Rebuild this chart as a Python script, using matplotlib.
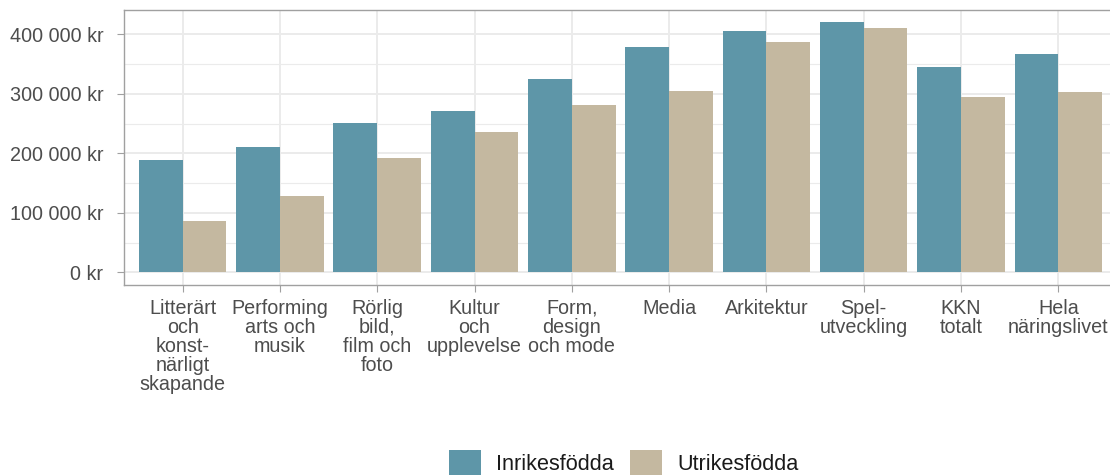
import numpy as np
import matplotlib
matplotlib.use("Agg")
import matplotlib.pyplot as plt
from matplotlib.patches import Patch
from matplotlib.ticker import FuncFormatter, MultipleLocator

plt.rcParams['font.family'] = ['Liberation Sans', 'DejaVu Sans']

# Data (kr)
categories = [
    "Litterärt\noch\nkonst-\nnärligt\nskapande",
    "Performing\narts och\nmusik",
    "Rörlig\nbild,\nfilm och\nfoto",
    "Kultur\noch\nupplevelse",
    "Form,\ndesign\noch mode",
    "Media",
    "Arkitektur",
    "Spel-\nutveckling",
    "KKN\ntotalt",
    "Hela\nnäringslivet",
]
inrikes = [189000, 211000, 251000, 271000, 325000, 379000, 405500, 420500, 345000, 367000]
utrikes = [87000, 129000, 192500, 236000, 281000, 305000, 387000, 410500, 295000, 303000]
series_names = ["Inrikesfödda", "Utrikesfödda"]
colors = ["#5E96A8", "#C4B8A0"]

fig = plt.figure(figsize=(11.1, 4.75), dpi=100)
# panel runs a little past the right edge, like the cropped reference
ax = fig.add_axes([0.112, 0.40, 0.894, 0.5796])

x = np.arange(1, len(categories) + 1)
w = 0.45
ax.bar(x - w / 2, inrikes, width=w, color=colors[0], zorder=3)
ax.bar(x + w / 2, utrikes, width=w, color=colors[1], zorder=3)

ymax = max(max(inrikes), max(utrikes))
ax.set_ylim(-0.05 * ymax, 1.05 * ymax)
ax.set_xlim(0.4, len(categories) + 0.6)

ax.yaxis.set_major_locator(MultipleLocator(100000))
ax.yaxis.set_minor_locator(MultipleLocator(50000))
ax.yaxis.set_major_formatter(FuncFormatter(lambda v, p: f"{int(v):,} kr".replace(",", " ")))
ax.set_xticks(x)
ax.set_xticklabels(categories, linespacing=1.0, fontsize=14.2)

ax.grid(which="major", color="#EBEBEB", linewidth=1.4, zorder=0)
ax.grid(which="minor", axis="y", color="#EBEBEB", linewidth=0.8, zorder=0)
ax.set_axisbelow(True)

for s in ax.spines.values():
    s.set_color("#A0A0A0")
    s.set_linewidth(1.0)

ax.tick_params(axis="both", which="major", length=5, width=0.8, color="#A0A0A0",
               labelcolor="#4D4D4D")
ax.tick_params(axis="y", pad=10, labelsize=14.2)
ax.tick_params(axis="x", pad=5)
ax.tick_params(which="minor", length=0)

handles = [Patch(facecolor=c, edgecolor="none") for c in colors]
fig.legend(handles, series_names, loc="center", bbox_to_anchor=(0.562, 0.025),
           ncol=2, frameon=False, fontsize=15.6, handlelength=1.47, handleheight=1.47,
           handletextpad=0.7, columnspacing=0.75, labelcolor="#1A1A1A")

fig.savefig("out.png", dpi=100)
